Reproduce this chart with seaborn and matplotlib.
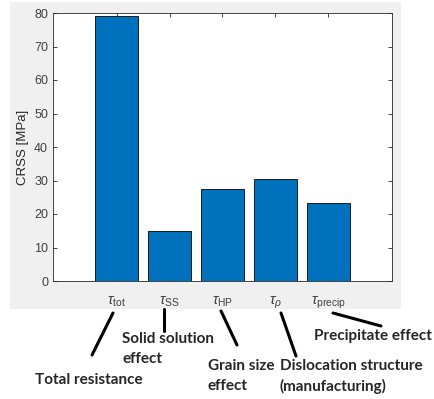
import matplotlib
matplotlib.use("Agg")
import matplotlib.pyplot as plt
import seaborn as sb
from matplotlib.patches import Rectangle
from matplotlib.lines import Line2D

labels = [r"$\tau_{\mathrm{tot}}$", r"$\tau_{\mathrm{SS}}$", r"$\tau_{\mathrm{HP}}$",
          r"$\tau_{\rho}$", r"$\tau_{\mathrm{precip}}$"]
crss = [79.0, 15.0, 27.4, 30.4, 23.2]
yticks = [0, 10, 20, 30, 40, 50, 60, 70, 80]

W, H = 435, 399

sb.set_style("white")
plt.rcParams["font.family"] = ["Liberation Sans", "DejaVu Sans"]
plt.rcParams["mathtext.fontset"] = "custom"
plt.rcParams["mathtext.rm"] = "Liberation Sans"
plt.rcParams["mathtext.it"] = "Liberation Sans:italic"

fig = plt.figure(figsize=(W / 100, H / 100), dpi=100)
fig.patch.set_facecolor("white")
# grey matlab figure background
fig.patches.append(Rectangle((10 / W, 1 - 309 / H), 391 / W, 307 / H,
                             transform=fig.transFigure, facecolor="#f0f0f0",
                             edgecolor="none", zorder=-10))

ax = fig.add_axes([53 / W, 1 - 281 / H, 339 / W, 268 / H])
ax.set_zorder(1)
ax.set_facecolor("white")
sb.barplot(x=list(range(len(crss))), y=crss, color="#0072BD", saturation=1,
           width=0.8, edgecolor="#1a1a1a", linewidth=0.7, ax=ax)
ax.set_xlim(-1.2, 5.2)
ax.set_ylim(0, 80)
ax.set_yticks(yticks)
ax.set_xticks(range(len(labels)))
ax.set_xticklabels(labels)
ax.set_ylabel("CRSS [MPa]", fontsize=9.5, color="#262626", labelpad=4)
ax.tick_params(direction="in", length=3, width=0.6, colors="#262626",
               labelsize=9, top=True, right=True, bottom=True, left=True,
               labelcolor="#404040")
ax.tick_params(axis="x", labelsize=10.5, pad=10)
for sp in ax.spines.values():
    sp.set_color("#262626")
    sp.set_linewidth(0.6)

# annotation lines (pixel coords of the reference)
segs = [((113, 313), (92, 355)),
        ((164, 309), (164, 331)),
        ((221, 311), (237, 345)),
        ((281, 313), (296, 356)),
        ((333, 313), (381, 326))]
for (x0, y0), (x1, y1) in segs:
    fig.add_artist(Line2D([x0 / W, x1 / W], [1 - y0 / H, 1 - y1 / H],
                          transform=fig.transFigure, color="black", lw=2.2))

notes = [(35, 380, "Total resistance"),
         (122, 339, "Solid solution"),
         (123, 359, "effect"),
         (208, 366, "Grain size"),
         (208, 386, "effect"),
         (280, 366, "Dislocation structure"),
         (280, 386, "(manufacturing)"),
         (314, 336, "Precipitate effect")]
for x, y, t in notes:
    fig.text(x / W, 1 - y / H, t, fontsize=11, fontweight="bold",
             family=["Lato", "DejaVu Sans"], va="center", ha="left")

plt.savefig("out.png", dpi=100)
plt.close()
